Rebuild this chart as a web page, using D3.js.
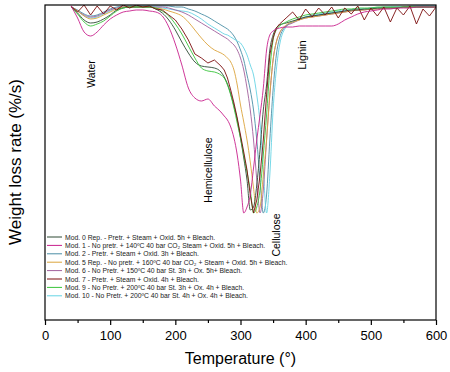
<!DOCTYPE html>
<html><head><meta charset="utf-8">
<script src="https://cdn.jsdelivr.net/npm/d3@7"></script>
<style>
html,body{margin:0;padding:0;background:#fff;}
svg{display:block;font-family:"Liberation Sans",Arial,sans-serif;}
</style></head>
<body><svg id="c" width="450" height="372"></svg>
<script>
// Temperature grid (°C)
const temps = [40,50,60,70,80,90,100,110,120,130,140,150,160,170,180,190,200,210,220,230,240,250,260,270,
  275,280,285,290,295,300,305,310,315,320,325,330,335,340,345,350,355,360,
  370,380,390,400,410,420,430,440,450,460,470,480,490,500,510,520,530,540,550,560,570,580,590,600];

// Weight loss rate values per series (%/s)
const mod0 = [-0.02,-0.08,-0.15,-0.18,-0.17,-0.14,-0.10,-0.05,-0.03,-0.02,-0.02,-0.02,-0.02,-0.04,-0.08,-0.15,-0.25,-0.37,-0.48,-0.57,-0.61,-0.62,-0.63,-0.67,
  -0.72,-0.79,-0.89,-1.01,-1.15,-1.33,-1.53,-1.75,-2.05,-2.02,-1.80,-1.45,-1.05,-0.80,-0.45,-0.30,-0.23,-0.20,
  -0.18,-0.16,-0.14,-0.12,-0.11,-0.10,-0.09,-0.08,-0.07,-0.06,-0.05,-0.05,-0.04,-0.04,-0.03,-0.03,-0.03,-0.03,-0.02,-0.02,-0.02,-0.02,-0.02,-0.02];
const mod1 = [-0.01,-0.13,-0.27,-0.31,-0.27,-0.20,-0.14,-0.10,-0.07,-0.06,-0.05,-0.05,-0.06,-0.07,-0.11,-0.22,-0.39,-0.60,-0.83,-0.93,-0.96,-0.94,-1.01,-1.07,
  -1.11,-1.15,-1.22,-1.33,-1.50,-1.75,-2.08,-2.02,-1.90,-1.63,-1.35,-1.10,-0.83,-0.45,-0.30,-0.26,-0.24,-0.23,
  -0.22,-0.22,-0.21,-0.21,-0.21,-0.21,-0.21,-0.21,-0.19,-0.15,-0.12,-0.09,-0.07,-0.06,-0.05,-0.04,-0.04,-0.03,-0.03,-0.03,-0.02,-0.02,-0.02,-0.02];
const mod2 = [-0.02,-0.05,-0.09,-0.11,-0.10,-0.07,-0.04,-0.02,-0.01,-0.01,-0.01,-0.01,-0.01,-0.01,-0.01,-0.01,-0.02,-0.02,-0.04,-0.06,-0.09,-0.12,-0.16,-0.20,
  -0.22,-0.24,-0.27,-0.31,-0.37,-0.45,-0.55,-0.70,-0.85,-1.05,-1.35,-1.75,-2.08,-1.90,-1.35,-0.85,-0.50,-0.33,
  -0.21,-0.17,-0.14,-0.12,-0.11,-0.10,-0.09,-0.08,-0.07,-0.06,-0.05,-0.04,-0.04,-0.03,-0.03,-0.02,-0.02,-0.02,-0.02,-0.01,-0.01,-0.01,-0.01,-0.01];
const mod5 = [-0.02,-0.06,-0.11,-0.14,-0.13,-0.10,-0.07,-0.04,-0.02,-0.02,-0.02,-0.02,-0.02,-0.03,-0.04,-0.06,-0.08,-0.11,-0.17,-0.25,-0.33,-0.40,-0.45,-0.48,
  -0.50,-0.53,-0.57,-0.65,-0.80,-1.00,-1.17,-1.35,-1.57,-1.83,-2.08,-2.02,-1.70,-1.35,-0.90,-0.55,-0.37,-0.28,
  -0.20,-0.17,-0.15,-0.13,-0.12,-0.11,-0.10,-0.09,-0.08,-0.07,-0.06,-0.05,-0.05,-0.04,-0.04,-0.03,-0.03,-0.03,-0.02,-0.02,-0.02,-0.02,-0.02,-0.02];
const mod6 = [-0.02,-0.06,-0.10,-0.12,-0.11,-0.08,-0.05,-0.03,-0.02,-0.02,-0.02,-0.02,-0.02,-0.02,-0.02,-0.03,-0.05,-0.07,-0.10,-0.14,-0.18,-0.22,-0.26,-0.30,
  -0.32,-0.34,-0.37,-0.40,-0.45,-0.53,-0.65,-0.83,-1.05,-1.35,-1.75,-2.08,-1.85,-1.35,-0.90,-0.55,-0.37,-0.28,
  -0.21,-0.18,-0.15,-0.13,-0.12,-0.11,-0.10,-0.09,-0.08,-0.07,-0.06,-0.05,-0.05,-0.04,-0.04,-0.03,-0.03,-0.03,-0.02,-0.02,-0.02,-0.02,-0.02,-0.02];
const mod7 = [-0.01,-0.07,0.00,-0.10,-0.01,-0.09,-0.01,-0.05,0.00,-0.03,0.00,-0.02,-0.01,-0.04,-0.05,-0.10,-0.15,-0.24,-0.35,-0.49,-0.53,-0.58,-0.55,-0.61,
  -0.65,-0.73,-0.85,-0.98,-1.13,-1.30,-1.47,-1.65,-1.90,-2.08,-1.95,-1.70,-1.35,-0.90,-0.50,-0.33,-0.23,-0.19,
  -0.13,-0.07,-0.15,-0.04,-0.12,-0.03,-0.10,-0.02,-0.13,-0.03,-0.09,-0.01,-0.15,-0.03,-0.11,-0.02,-0.17,-0.03,-0.10,-0.01,-0.19,-0.04,-0.11,-0.02];
const mod9 = [-0.02,-0.09,-0.17,-0.21,-0.19,-0.16,-0.11,-0.06,-0.03,-0.02,-0.02,-0.02,-0.02,-0.03,-0.06,-0.11,-0.19,-0.29,-0.41,-0.53,-0.63,-0.66,-0.67,-0.70,
  -0.73,-0.80,-0.90,-1.03,-1.18,-1.33,-1.50,-1.67,-1.85,-2.08,-2.02,-1.85,-1.50,-1.10,-0.65,-0.35,-0.25,-0.21,
  -0.17,-0.14,-0.12,-0.10,-0.09,-0.08,-0.07,-0.06,-0.05,-0.04,-0.04,-0.03,-0.03,-0.03,-0.02,-0.02,-0.02,-0.02,-0.02,-0.02,-0.02,-0.02,-0.02,-0.02];
const mod10 = [-0.02,-0.06,-0.11,-0.13,-0.12,-0.09,-0.06,-0.03,-0.02,-0.02,-0.01,-0.01,-0.01,-0.02,-0.03,-0.04,-0.05,-0.06,-0.07,-0.10,-0.14,-0.19,-0.23,-0.27,
  -0.29,-0.30,-0.32,-0.34,-0.36,-0.38,-0.43,-0.50,-0.60,-0.70,-0.90,-1.18,-1.65,-2.08,-1.70,-1.05,-0.65,-0.40,
  -0.22,-0.17,-0.14,-0.12,-0.10,-0.09,-0.08,-0.07,-0.06,-0.05,-0.05,-0.04,-0.04,-0.03,-0.03,-0.03,-0.02,-0.02,-0.02,-0.02,-0.01,-0.01,-0.01,-0.01];

const seriesLabels = [
  "Mod. 0 Rep. - Pretr. + Steam + Oxid. 5h + Bleach.",
  "Mod. 1 - No pretr. + 140ºC 40 bar CO₂ Steam + Oxid. 5h + Bleach.",
  "Mod. 2 - Pretr. + Steam + Oxid. 3h + Bleach.",
  "Mod. 5 Rep. - No pretr. + 160ºC 40 bar CO₂ + Steam + Oxid. 5h + Bleach.",
  "Mod. 6 - No Pretr. + 150ºC 40 bar St. 3h + Ox. 5h+ Bleach.",
  "Mod. 7 - Pretr. + Steam + Oxid. 4h + Bleach.",
  "Mod. 9 - No Pretr. + 200ºC 40 bar St. 3h + Ox. 4h + Bleach.",
  "Mod. 10 - No Pretr. + 200ºC 40 bar St. 4h + Ox. 4h + Bleach."
];
const seriesValues = [mod0, mod1, mod2, mod5, mod6, mod7, mod9, mod10];
const seriesColors = ["#2e4a34","#c8208c","#4a8ea6","#dba43c","#a2609c","#7a0c0c","#38c43a","#66d4e4"];
const seriesNoisy = [false,false,false,false,false,true,false,false];
const xTicks = [0,100,200,300,400,500,600];
const xMinorTicks = [50,150,250,350,450,550];
const annotations = [
  {text:"Water", t:70, v:-0.69, size:10.5},
  {text:"Hemicellulose", t:250, v:-1.65, size:10.5},
  {text:"Cellulose", t:355, v:-2.30, size:10.5},
  {text:"Lignin", t:395, v:-0.50, size:11}
];

const svg = d3.select("#c");
const m = {l:45, r:436, t:5, b:320};
const x = d3.scaleLinear().domain([0,600]).range([m.l, m.r]);
const y = d3.scaleLinear().domain([-3.15, 0]).range([m.b, m.t]);

svg.append("defs").append("clipPath").attr("id","clip")
  .append("rect").attr("x",m.l).attr("y",m.t).attr("width",m.r-m.l).attr("height",m.b-m.t);

// Lines
const smooth = d3.line().x((d,i)=>x(temps[i])).y(d=>y(d)).curve(d3.curveMonotoneX);
const jagged = d3.line().x((d,i)=>x(temps[i])).y(d=>y(d)).curve(d3.curveLinear);
const drawOrder = [2,7,4,3,0,6,5,1];
const g = svg.append("g").attr("clip-path","url(#clip)");
drawOrder.forEach(k=>{
  g.append("path").datum(seriesValues[k]).attr("d", seriesNoisy[k] ? jagged : smooth)
    .attr("fill","none").attr("stroke",seriesColors[k]).attr("stroke-width",0.9);
});

// Frame
svg.append("rect").attr("x",m.l).attr("y",m.t).attr("width",m.r-m.l).attr("height",m.b-m.t)
  .attr("fill","none").attr("stroke","#000").attr("stroke-width",1.2);

// X axis
const xa = svg.append("g").attr("transform",`translate(0,${m.b})`)
  .call(d3.axisBottom(x).tickValues(xTicks).tickSize(5).tickPadding(6).tickFormat(d3.format("d")));
xa.select(".domain").remove();
xa.selectAll("text").attr("font-size",13).attr("font-family","Liberation Sans, Arial, sans-serif").attr("fill","#000");
xa.selectAll("line").attr("stroke","#000").attr("stroke-width",1.2);
const xm = svg.append("g").attr("transform",`translate(0,${m.b})`)
  .call(d3.axisBottom(x).tickValues(xMinorTicks).tickSize(3).tickFormat(""));
xm.select(".domain").remove();
xm.selectAll("line").attr("stroke","#000").attr("stroke-width",1.2);

// Axis titles
svg.append("text").attr("x",(m.l+m.r)/2).attr("y",364).attr("text-anchor","middle")
  .attr("font-size",16).text("Temperature (°)");
svg.append("text").attr("transform","translate(21,162) rotate(-90)").attr("text-anchor","middle")
  .attr("font-size",17).text("Weight loss rate (%/s)");

// Annotations
annotations.forEach(a=>{
  svg.append("text").attr("transform",`translate(${x(a.t)},${y(a.v)}) rotate(-90)`)
    .attr("text-anchor","middle").attr("dominant-baseline","central")
    .attr("font-size",a.size).text(a.text);
});

// Legend
const lg = svg.append("g");
seriesLabels.forEach((lab,i)=>{
  const yy = 237 + i*8.4;
  lg.append("line").attr("x1",47).attr("x2",62).attr("y1",yy).attr("y2",yy)
    .attr("stroke",seriesColors[i]).attr("stroke-width",1);
  lg.append("text").attr("x",65).attr("y",yy).attr("dominant-baseline","central")
    .attr("font-size",6.8).attr("fill","#222").text(lab);
});
</script></body></html>
